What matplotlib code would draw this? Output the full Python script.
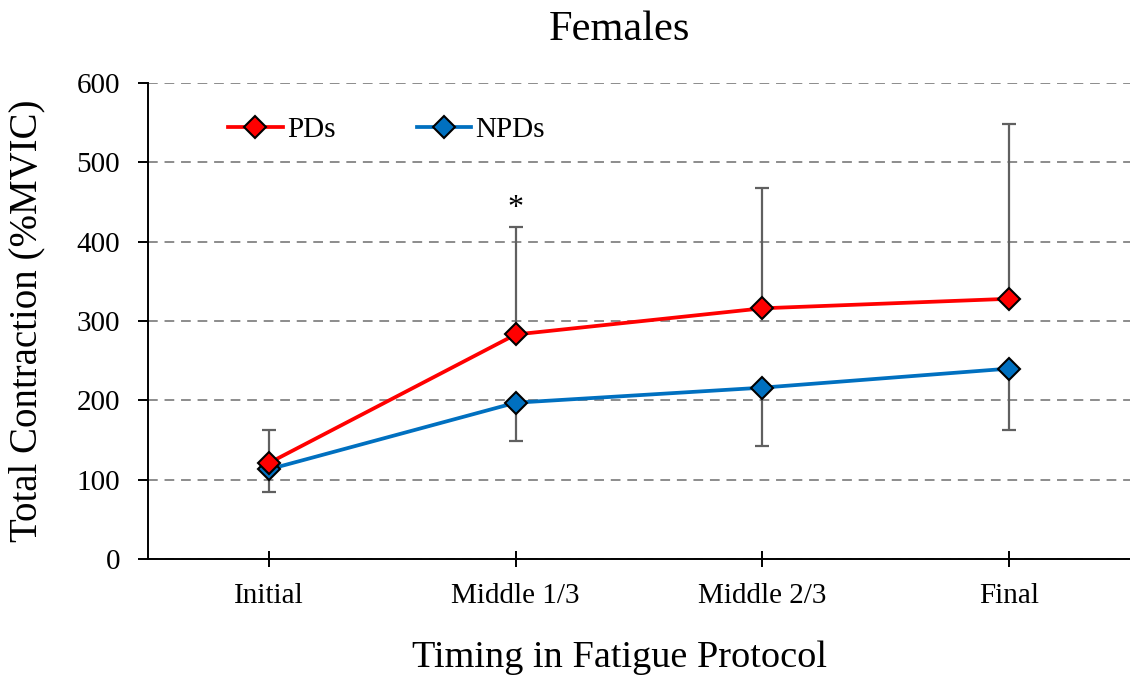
import numpy as np
import matplotlib
matplotlib.use("Agg")
import matplotlib.pyplot as plt

plt.rcParams['font.family'] = ['Liberation Serif', 'DejaVu Serif']

# data
stages = ["Initial", "Middle 1/3", "Middle 2/3", "Final"]
pds = [121, 283, 316, 328]
pds_err_up = [41, 136, 152, 220]
npds = [113, 197, 216, 240]
npds_err_down = [28, 48, 73, 78]

x = np.arange(len(stages))

fig = plt.figure(figsize=(11.3, 6.79), dpi=100)
ax = fig.add_axes([148 / 1130, 120 / 679, 982 / 1130, 476 / 679])

# error bars (one-sided)
ax.errorbar(x, pds, yerr=[np.zeros(4), pds_err_up], fmt='none', ecolor='#606060',
            elinewidth=1.6, capsize=5, capthick=1.6, zorder=2)
ax.errorbar(x, npds, yerr=[npds_err_down, np.zeros(4)], fmt='none', ecolor='#606060',
            elinewidth=1.6, capsize=5, capthick=1.6, zorder=2)

ax.plot(x, pds, color='#ff0000', lw=2.7, marker='D', ms=11.5, mfc='#ff0000',
        mec='black', mew=1.5, label='PDs', zorder=4)
ax.plot(x, npds, color='#0070c0', lw=2.7, marker='D', ms=11.5, mfc='#0070c0',
        mec='black', mew=1.5, label='NPDs', zorder=3)

# significance marker
ax.text(x[1], 442, '*', ha='center', va='center', fontsize=23)

ax.set_xlim(-0.49, 3.49)
ax.set_ylim(0, 600)
ax.set_yticks(range(0, 601, 100))
ax.set_xticks(x)
ax.set_xticklabels(stages)
ax.yaxis.grid(True, color='#8c8c8c', ls=(0, (5, 3.5)), lw=1.4)
ax.set_axisbelow(True)

for s in ['top', 'right']:
    ax.spines[s].set_visible(False)
for s in ['left', 'bottom']:
    ax.spines[s].set_linewidth(1.4)
ax.tick_params(axis='y', direction='out', length=7, width=1.4, labelsize=21, pad=13)
ax.tick_params(axis='x', direction='inout', length=12, width=1.4, labelsize=21, pad=11)

ax.set_title('Females', fontsize=30.5, x=0.48, y=1.0, pad=31)
ax.set_xlabel('Timing in Fatigue Protocol', fontsize=27.5, x=0.48, labelpad=23)
ax.set_ylabel('Total Contraction (%MVIC)', fontsize=28)
ax.yaxis.set_label_coords(-0.104, 0.5)

ax.legend(loc='upper left', bbox_to_anchor=(0.055, 0.985), ncol=2, frameon=False,
          fontsize=21, handlelength=1.86, columnspacing=2.8, handletextpad=0.15)

fig.savefig('out.png', dpi=100)
